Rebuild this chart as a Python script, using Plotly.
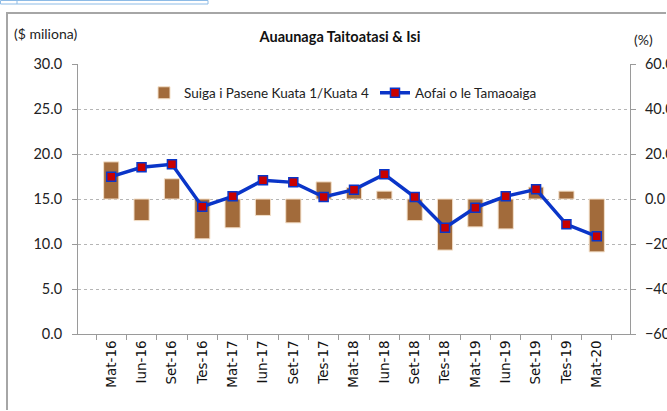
"""
Auaunaga Taitoatasi & Isi: quarterly level ($ miliona) and Q/Q-4 percent change.
"""

import plotly.graph_objects as go

quarters = [
    "Mat-16", "Iun-16", "Set-16", "Tes-16",
    "Mat-17", "Iun-17", "Set-17", "Tes-17",
    "Mat-18", "Iun-18", "Set-18", "Tes-18",
    "Mat-19", "Iun-19", "Set-19", "Tes-19",
    "Mat-20",
]
# percent change on same quarter last year (right axis)
pct_change = [
    16.5, -9.6, 9.0, -17.7,
    -12.8, -7.3, -10.6, 7.6,
    5.1, 3.5, -9.6, -22.7,
    -12.4, -13.3, 5.3, 3.5,
    -23.5,
]
# sector output, $ miliona (left axis)
output_level = [
    17.48, 18.52, 18.85, 14.15,
    15.30, 17.07, 16.85, 15.22,
    16.04, 17.74, 15.22, 11.81,
    14.04, 15.30, 16.07, 12.19,
    10.85,
]
left_ticks = [0, 5, 10, 15, 20, 25, 30]
right_ticks = [-60, -40, -20, 0, 20, 40, 60]

W, H = 667, 411
PL, PR, PT, PB = 78, 630, 64, 334  # plot area in px
CAL = "Lato, Carlito, Calibri, sans-serif"
AXIS_GREY = "#9a9a9a"


def px(x):
    return (x - PL) / (PR - PL)


def py(y):
    return (PB - y) / (PB - PT)


fig = go.Figure()
fig.add_trace(
    go.Bar(
        x=quarters,
        y=pct_change,
        name="Suiga i Pasene Kuata 1/Kuata 4",
        marker={"color": "#a26b3b", "line": {"color": "#f3dfc8", "width": 1}},
        width=0.5,
        yaxis="y",
    )
)
fig.add_trace(
    go.Scatter(
        x=quarters,
        y=output_level,
        name="Aofai o le Tamaoaiga",
        mode="lines+markers",
        line={"color": "#0a35c8", "width": 3.5},
        marker={
            "symbol": "square",
            "size": 9,
            "color": "#c80000",
            "line": {"color": "#0a35c8", "width": 1.5},
        },
        yaxis="y2",
    )
)

fig.update_layout(
    width=W,
    height=H,
    margin={"l": PL, "r": W - PR, "t": PT, "b": H - PB, "autoexpand": False},
    paper_bgcolor="white",
    plot_bgcolor="white",
    font={"family": CAL, "size": 14, "color": "#222"},
    showlegend=True,
    legend={
        "orientation": "h",
        "x": px(144),
        "xanchor": "left",
        "y": py(93),
        "yanchor": "middle",
        "bgcolor": "rgba(0,0,0,0)",
        "font": {"family": CAL, "size": 13.5, "color": "#222"},
        "entrywidth": 186,
        "traceorder": "normal",
    },
    title={
        "text": "<b>Auaunaga Taitoatasi & Isi</b>",
        "x": 340 / W,
        "xanchor": "center",
        "y": 1 - 37 / H,
        "yanchor": "middle",
        "font": {"family": CAL, "size": 14.5, "color": "#111"},
    },
    xaxis={
        "type": "category",
        "automargin": False,
        "showline": True,
        "linecolor": AXIS_GREY,
        "linewidth": 1,
        "ticks": "outside",
        "tickson": "boundaries",
        "ticklen": 5,
        "tickcolor": AXIS_GREY,
        "tickangle": -90,
        "tickfont": {"family": "DejaVu Sans, Verdana, sans-serif", "size": 13.5, "color": "#111"},
        "showgrid": False,
    },
    yaxis={
        "side": "right",
        "automargin": False,
        "range": [-60, 60],
        "tickvals": right_ticks,
        "tickformat": ".1f",
        "tickfont": {"family": CAL, "size": 14.5, "color": "#222"},
        "showline": True,
        "linecolor": AXIS_GREY,
        "ticks": "outside",
        "ticklen": 5,
        "tickcolor": AXIS_GREY,
        "showgrid": True,
        "gridcolor": "#b5b5b5",
        "griddash": "dot",
        "gridwidth": 1,
        "zeroline": False,
        "ticklabelstandoff": 6,
    },
    yaxis2={
        "side": "left",
        "overlaying": "y",
        "automargin": False,
        "range": [0, 30],
        "tickvals": left_ticks,
        "tickformat": ".1f",
        "tickfont": {"family": CAL, "size": 14.5, "color": "#222"},
        "showline": True,
        "linecolor": AXIS_GREY,
        "ticks": "outside",
        "ticklen": 5,
        "tickcolor": AXIS_GREY,
        "showgrid": False,
        "zeroline": False,
        "ticklabelstandoff": 7,
    },
)

# axis unit labels
fig.add_annotation(
    text="($ miliona)", xref="paper", yref="paper", x=px(45), y=py(34),
    showarrow=False, xanchor="center", yanchor="middle",
    font={"family": CAL, "size": 14, "color": "#222"},
)
fig.add_annotation(
    text="(%)", xref="paper", yref="paper", x=px(643), y=py(39),
    showarrow=False, xanchor="center", yanchor="middle",
    font={"family": CAL, "size": 14, "color": "#222"},
)

# chart frame and spreadsheet cell edge
fig.add_shape(type="line", xref="paper", yref="paper",
              x0=px(6), y0=py(13), x1=px(W - 1), y1=py(13),
              line={"color": "#a6a6a6", "width": 2})
fig.add_shape(type="line", xref="paper", yref="paper",
              x0=px(7), y0=py(13), x1=px(7), y1=py(H - 1),
              line={"color": "#a6a6a6", "width": 2})
fig.add_shape(type="rect", xref="paper", yref="paper",
              x0=px(0.5), y0=py(0.5), x1=px(208), y1=py(4),
              line={"color": "#8dbbe6", "width": 1})
fig.add_shape(type="line", xref="paper", yref="paper",
              x0=px(17), y0=py(0.5), x1=px(17), y1=py(4),
              line={"color": "#8dbbe6", "width": 1})

# drop the default page margin so the figure sits at the window's corner
fig.write_html(
    "out.html",
    config={"displayModeBar": False},
    post_script="document.body.style.margin='0';",
)
